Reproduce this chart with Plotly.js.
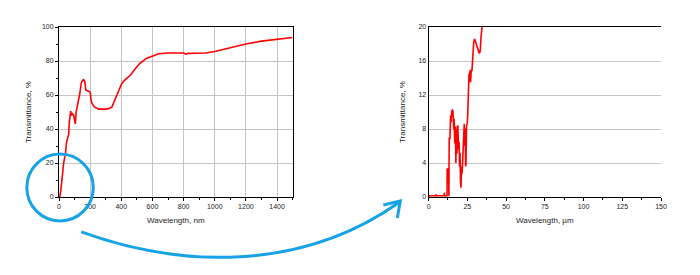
<!DOCTYPE html>
<html>
<head>
<meta charset="utf-8">
<script src="https://cdn.plot.ly/plotly-3.0.1.min.js"></script>
<style>html,body{margin:0;padding:0;background:#fff;}#chart{width:700px;height:275px;}</style>
</head>
<body>
<div id="chart"></div>
<script>
// Full spectrum (left panel)
const wavelengthFull = [0,6,12,18,24,30,36,42,48,55,62,66,70,75,80,86,94,100,105,110,115,123,132,138,143,150,158,165,172,182,200,206,212,227,254,290,318,340,356,372,390,404,430,458,490,518,560,600,640,700,800,815,830,940,1000,1080,1200,1300,1420,1500];
const transFull = [0,0.5,4,10,16,20,23,26,32,35,37,44,48,50.5,48,49,48,45,43,50,53,56,60,64,67,68.5,69,68,63,62.5,61.8,57,55,53,51.7,51.7,52,53,56,60,64,67,69.5,71.6,75.5,78.5,81.5,83,84.3,84.7,84.7,84.1,84.5,84.7,85.6,87.3,90,91.7,93.2,93.8];

// Zoomed start region (right panel)
const wavelengthZoom = [0,4.5,4.7,5,10,10.1,10.3,11.9,12.0,12.9,13.1,13.3,13.8,14.2,14.5,14.9,15.4,15.8,16.2,16.5,16.9,17.3,17.6,17.9,18.3,18.6,18.9,19.3,19.7,20.0,20.3,20.6,20.9,21.2,21.5,21.8,22.2,22.6,23.0,23.3,23.6,23.9,24.1,24.5,24.9,25.2,25.5,25.8,26.1,26.4,26.7,27.1,27.5,28.0,28.4,28.8,29.1,29.7,30.2,30.6,31.2,32.1,32.7,33.1,33.4,33.8,34.4,34.9,35.3];
const transZoom = [0.15,0.15,0.3,0.15,0.15,0.5,0.15,0.15,3.3,3.3,0.1,6.9,6.9,9.6,8.8,10.0,10.3,9.9,8.0,9.2,6.3,8.3,4.0,7.9,5.1,8.3,8.4,5.6,6.5,3.6,5.2,1.7,1.1,3.6,2.7,3.4,5.1,7.9,8.6,6.0,8.1,3.6,3.8,8.4,8.6,9.4,12.2,11.6,14.5,13.6,14.9,13.5,14.9,14.9,16.9,17.3,18.2,18.6,18.3,17.9,17.6,17.3,16.9,17.0,17.4,18.7,19.8,20.3,21.5];

const leftXTicks = [0,200,400,600,800,1000,1200,1400];
const leftYTicks = [0,20,40,60,80,100];
const rightXTicks = [0,25,50,75,100,125,150];
const rightXGrid = [25,50,75,100];
const rightYTicks = [0,4,8,12,16,20];

const xTitleLeft = 'Wavelength, nm';
const xTitleRight = 'Wavelength, µm';
const yTitle = 'Transmittance, %';

const W = 700, H = 275;
const M = {l: 58.7, r: 39.3, t: 26.7, b: 78};
const PW = W - M.l - M.r, PH = H - M.t - M.b;
function px(x){ return (x - M.l) / PW; }
function py(y){ return (H - M.b - y) / PH; }
function pt(x,y){ return px(x).toFixed(4) + ',' + py(y).toFixed(4); }

const tickFont = {family: 'Liberation Sans, Arial, sans-serif', size: 7, color: '#222'};
const titleFont = {family: 'Liberation Sans, Arial, sans-serif', size: 8, color: '#222'};
const grid = '#c4c4c4';

const traces = [
  {x: wavelengthFull, y: transFull, type: 'scatter', mode: 'lines', xaxis: 'x', yaxis: 'y',
   line: {color: '#ff0000', width: 1.6}, hoverinfo: 'skip', showlegend: false},
  {x: wavelengthZoom, y: transZoom, type: 'scatter', mode: 'lines', xaxis: 'x2', yaxis: 'y2',
   line: {color: '#ff0000', width: 1.6}, hoverinfo: 'skip', showlegend: false, cliponaxis: true}
];

const axCommon = {showline: true, linecolor: '#000', linewidth: 1, zeroline: false,
  ticks: 'outside', ticklen: 3, tickcolor: '#000', tickfont: tickFont, automargin: false,
  gridcolor: grid, gridwidth: 1};

const layout = {
  width: W, height: H, margin: M, paper_bgcolor: '#fff', plot_bgcolor: '#fff', showlegend: false,
  xaxis: Object.assign({}, axCommon, {domain: [0, 233.6/PW], range: [0, 1500], tickvals: leftXTicks,
    mirror: true, showgrid: true, minor: {dtick: 100, ticks: 'outside', ticklen: 2, tickcolor: '#000', showgrid: false},
    title: {text: xTitleLeft, font: titleFont, standoff: 7}, anchor: 'y'}),
  yaxis: Object.assign({}, axCommon, {domain: [0, 1], range: [0, 100], tickvals: leftYTicks,
    mirror: true, showgrid: true, minor: {dtick: 10, ticks: 'outside', ticklen: 2, tickcolor: '#000', showgrid: false},
    title: {text: yTitle, font: titleFont, standoff: 9}, anchor: 'x'}),
  xaxis2: Object.assign({}, axCommon, {domain: [(428.3 - M.l)/PW, 1], range: [0, 150], tickvals: rightXTicks,
    mirror: true, showgrid: false, minor: {dtick: 12.5, ticks: 'outside', ticklen: 2, tickcolor: '#000', showgrid: false},
    title: {text: xTitleRight, font: titleFont, standoff: 7}, anchor: 'y2'}),
  xaxis3: {domain: [(428.3 - M.l)/PW, 1], range: [0, 150], overlaying: 'x2', anchor: 'y2', tickvals: rightXGrid,
    showgrid: true, gridcolor: grid, gridwidth: 1, showticklabels: false, ticks: '', showline: false, zeroline: false},
  yaxis2: Object.assign({}, axCommon, {domain: [0, 1], range: [0, 20], tickvals: rightYTicks,
    mirror: false, showgrid: true, ticks: '',
    title: {text: yTitle, font: titleFont, standoff: 11}, anchor: 'x2'}),
  shapes: [
    {type: 'circle', xref: 'paper', yref: 'paper', x0: px(26.5), x1: px(93), y0: py(221), y1: py(154),
     line: {color: '#16a2e6', width: 3}, layer: 'above'},
    {type: 'path', xref: 'paper', yref: 'paper',
     path: 'M' + pt(81,232) + ' C' + pt(180,268) + ' ' + pt(300,272) + ' ' + pt(398,203),
     line: {color: '#16a2e6', width: 3}, layer: 'above'},
    {type: 'path', xref: 'paper', yref: 'paper',
     path: 'M' + pt(383,205) + ' L' + pt(400,201) + ' L' + pt(397,218),
     line: {color: '#16a2e6', width: 3}, layer: 'above'}
  ]
};

Plotly.newPlot('chart', traces, layout, {staticPlot: true, displayModeBar: false});
</script>
</body>
</html>
